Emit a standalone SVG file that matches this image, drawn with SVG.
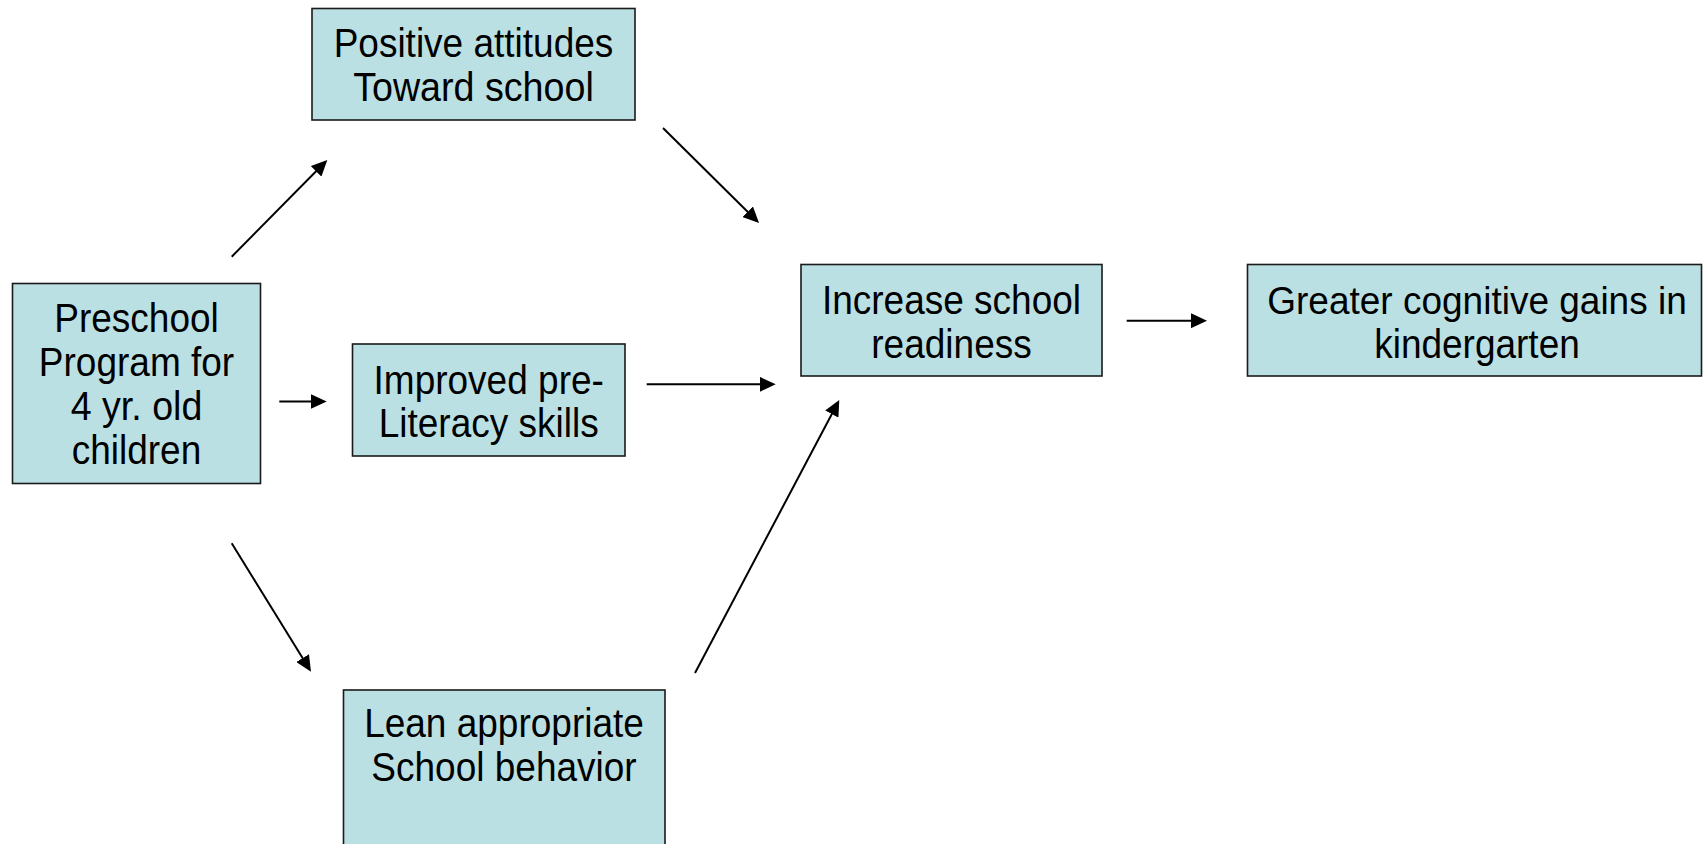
<svg xmlns="http://www.w3.org/2000/svg" width="1704" height="844" viewBox="0 0 1704 844">
<style>
.box{fill:#bbe0e3;stroke:#1a1a1a;stroke-width:1.6}
.t{font-family:"Liberation Sans",Arial,sans-serif;font-size:40px;fill:#000;text-anchor:middle}
.s{font-size:38px}
.c{stroke:#000;stroke-width:2;fill:none;marker-end:url(#ah)}
</style>
<defs>
<marker id="ah" markerUnits="userSpaceOnUse" markerWidth="16" markerHeight="15" refX="12" refY="7.5" orient="auto">
<path d="M0,0 L16,7.5 L0,15 z" fill="#000"/>
</marker>
</defs>
<rect width="1704" height="844" fill="#fff"/>
<g id="preschool">
<rect class="box" x="12.5" y="283.5" width="248" height="200"/>
<text class="t" x="136.5" y="332" textLength="164.5" lengthAdjust="spacingAndGlyphs">Preschool</text>
<text class="t" x="136.5" y="376" textLength="195.3" lengthAdjust="spacingAndGlyphs">Program for</text>
<text class="t" x="136.5" y="420" textLength="131.6" lengthAdjust="spacingAndGlyphs">4 yr. old</text>
<text class="t" x="136.5" y="464" textLength="129.5" lengthAdjust="spacingAndGlyphs">children</text>
</g>
<g id="positive">
<rect class="box" x="312" y="8.5" width="323" height="111.5"/>
<text class="t" x="473.5" y="56.5" textLength="279.7" lengthAdjust="spacingAndGlyphs">Positive attitudes</text>
<text class="t" x="473.5" y="100.5" textLength="240.6" lengthAdjust="spacingAndGlyphs">Toward school</text>
</g>
<g id="improved">
<rect class="box" x="352.5" y="344" width="272.5" height="112"/>
<text class="t" x="488.7" y="393.5" textLength="230.3" lengthAdjust="spacingAndGlyphs">Improved pre-</text>
<text class="t" x="488.7" y="437" textLength="220" lengthAdjust="spacingAndGlyphs">Literacy skills</text>
</g>
<g id="lean">
<rect class="box" x="343.5" y="690" width="321.5" height="170"/>
<text class="t" x="504" y="737" textLength="279.7" lengthAdjust="spacingAndGlyphs">Lean appropriate</text>
<text class="t" x="504" y="781" textLength="265.3" lengthAdjust="spacingAndGlyphs">School behavior</text>
</g>
<g id="increase">
<rect class="box" x="801" y="264.5" width="301" height="111.5"/>
<text class="t" x="951.5" y="313.5" textLength="259.1" lengthAdjust="spacingAndGlyphs">Increase school</text>
<text class="t" x="951.5" y="357.5" textLength="160.4" lengthAdjust="spacingAndGlyphs">readiness</text>
</g>
<g id="greater">
<rect class="box" x="1247.5" y="264.5" width="454" height="111.5"/>
<text class="t s" x="1477" y="313.5" textLength="419.5" lengthAdjust="spacingAndGlyphs">Greater cognitive gains in</text>
<text class="t" x="1477" y="357.5" textLength="205.6" lengthAdjust="spacingAndGlyphs">kindergarten</text>
</g>
<g id="connectors">
<line class="c" x1="231.7" y1="256.7" x2="324.5" y2="162.8"/>
<line class="c" x1="279.3" y1="401.5" x2="322.7" y2="401.5"/>
<line class="c" x1="231.7" y1="543.3" x2="308.9" y2="668.3"/>
<line class="c" x1="663" y1="128" x2="756.2" y2="220.2"/>
<line class="c" x1="646.7" y1="384.3" x2="771.7" y2="384.3"/>
<line class="c" x1="695" y1="673" x2="837.4" y2="403.5"/>
<line class="c" x1="1126.7" y1="320.7" x2="1203" y2="320.7"/>
</g>
</svg>
